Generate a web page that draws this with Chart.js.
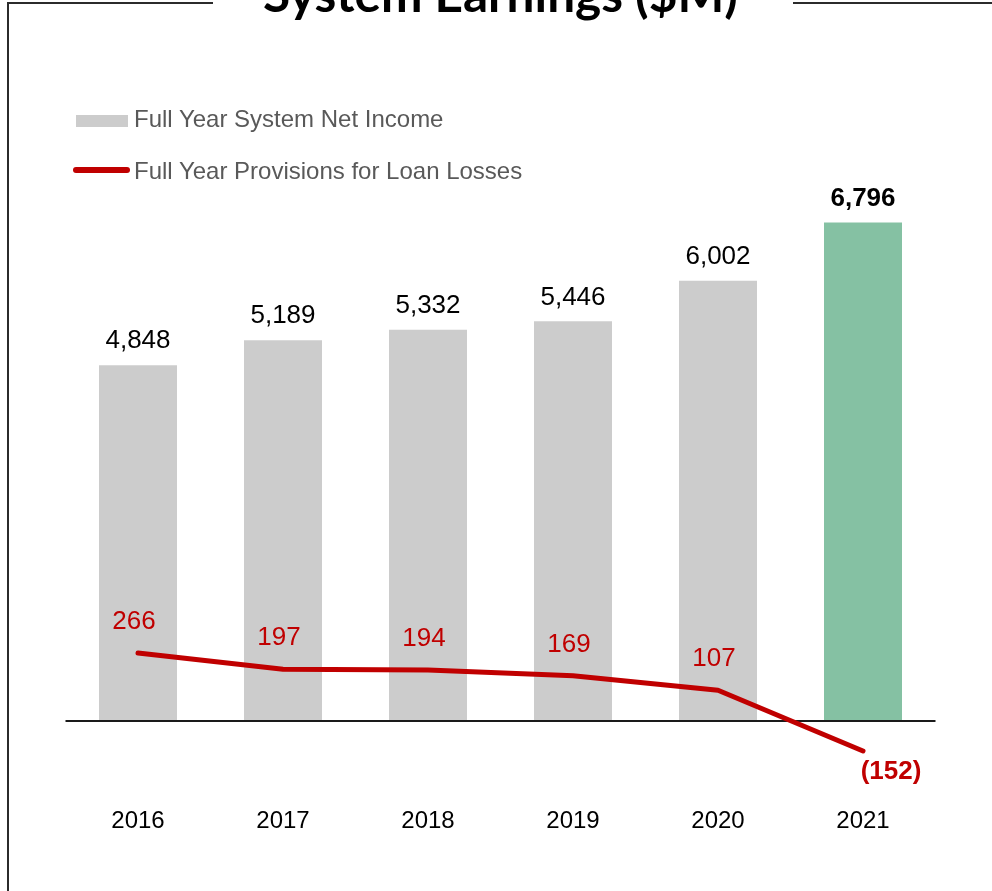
<!DOCTYPE html>
<html>
<head>
<meta charset="utf-8">
<script src="https://cdn.jsdelivr.net/npm/chart.js@4"></script>
<style>
  html, body { margin: 0; padding: 0; background: #fff; }
  body { width: 992px; height: 891px; position: relative; overflow: hidden; }
  #chart { position: absolute; left: 0; top: 0; }
  .frame { position: absolute; background: #2b2b2b; }
  #title {
    position: absolute; white-space: nowrap; line-height: 1;
    font-family: Lato, "Open Sans", sans-serif; font-weight: 700; color: #000;
    font-size: 48px;
  }
  .leg { position: absolute; left: 134px; height: 30px; line-height: 30px;
    font-family: "Liberation Sans", Arial, sans-serif; font-size: 24px; color: #595959; white-space: nowrap; }
  .swatch { position: absolute; }
</style>
</head>
<body>
<canvas id="chart" width="992" height="891"></canvas>

<div class="frame" style="left:7px; top:2px; width:2px; height:889px;"></div>
<div class="frame" style="left:7px; top:2px; width:206px; height:2px;"></div>
<div class="frame" style="left:793px; top:2px; width:199px; height:2px;"></div>
<div id="title">System Earnings ($M)</div>

<div class="swatch" style="left:76px; top:115px; width:52px; height:12px; background:#cccccc;"></div>
<div class="leg" style="top:104px;">Full Year System Net Income</div>
<div class="swatch" style="left:73px; top:167px; width:57px; height:6px; border-radius:3px; background:#c00000;"></div>
<div class="leg" style="top:156px;">Full Year Provisions for Loan Losses</div>

<script>
/*-------------------
    DATA
--------------------*/
const years = ['2016', '2017', '2018', '2019', '2020', '2021'];
const netIncome = [4848, 5189, 5332, 5446, 6002, 6796];
const provisions = [266, 197, 194, 169, 107, -152];

const grey = '#cccccc';
const green = '#85c1a3';
const red = '#c00000';
const sans = '"Liberation Sans", Arial, sans-serif';

// fit the title to the width it has in the picture, baseline near y=13
const title = document.getElementById('title');
const w = title.getBoundingClientRect().width;
const fs = 48 * 475 / w;
title.style.fontSize = fs + 'px';
title.style.left = (500.5 - 475 / 2) + 'px';
title.style.top = (13 - 0.887 * fs) + 'px';

function fmt(v) {
    if (v < 0) return '(' + Math.abs(v).toLocaleString('en-US') + ')';
    return v.toLocaleString('en-US');
}

// zero line under the bars
const zeroLine = {
    id: 'zeroLine',
    beforeDatasetsDraw(chart) {
        const {ctx, chartArea} = chart;
        const y = chart.scales.y.getPixelForValue(0);
        ctx.save();
        ctx.fillStyle = '#1a1a1a';
        ctx.fillRect(chartArea.left, y, chartArea.right - chartArea.left, 2);
        ctx.restore();
    }
};

// value labels
const valueLabels = {
    id: 'valueLabels',
    afterDatasetsDraw(chart) {
        const ctx = chart.ctx;
        ctx.save();
        ctx.textAlign = 'center';
        ctx.textBaseline = 'middle';

        const bars = chart.getDatasetMeta(1).data;
        bars.forEach((el, i) => {
            const last = i === bars.length - 1;
            ctx.fillStyle = '#000';
            ctx.font = (last ? 'bold 26px ' : '26px ') + sans;
            ctx.fillText(fmt(netIncome[i]), el.x, el.y - 24);
        });

        const pts = chart.getDatasetMeta(0).data;
        pts.forEach((el, i) => {
            const v = provisions[i];
            ctx.fillStyle = red;
            if (v < 0) {
                ctx.font = 'bold 26px ' + sans;
                ctx.fillText(fmt(v), el.x + 28, el.y + 21);
            } else {
                ctx.font = '26px ' + sans;
                ctx.fillText(fmt(v), el.x - 4, el.y - 31);
            }
        });
        ctx.restore();
    }
};

new Chart(document.getElementById('chart'), {
    type: 'bar',
    data: {
        labels: years,
        datasets: [
            {
                type: 'line',
                label: 'Full Year Provisions for Loan Losses',
                data: provisions,
                yAxisID: 'y2',
                borderColor: red,
                borderWidth: 5,
                borderCapStyle: 'round',
                borderJoinStyle: 'round',
                pointRadius: 0,
                tension: 0,
                fill: false,
                order: 0
            },
            {
                label: 'Full Year System Net Income',
                data: netIncome,
                yAxisID: 'y',
                backgroundColor: netIncome.map((v, i) => i === netIncome.length - 1 ? green : grey),
                borderWidth: 0,
                categoryPercentage: 1,
                barPercentage: 78 / 145,
                order: 1
            }
        ]
    },
    options: {
        responsive: false,
        devicePixelRatio: 1,
        animation: false,
        layout: {padding: {left: 65.5, right: 56.5, top: 140, bottom: 39}},
        plugins: {
            legend: {display: false},
            title: {display: false},
            tooltip: {enabled: false}
        },
        scales: {
            x: {
                grid: {display: false, drawTicks: false},
                border: {display: false},
                ticks: {
                    padding: 16.6,
                    color: '#000',
                    font: {family: sans, size: 24}
                }
            },
            y: {display: false, min: -956.3, max: 7923.5},
            y2: {display: false, position: 'right', min: -318.3, max: 2454.8}
        }
    },
    plugins: [zeroLine, valueLabels]
});
</script>
</body>
</html>
